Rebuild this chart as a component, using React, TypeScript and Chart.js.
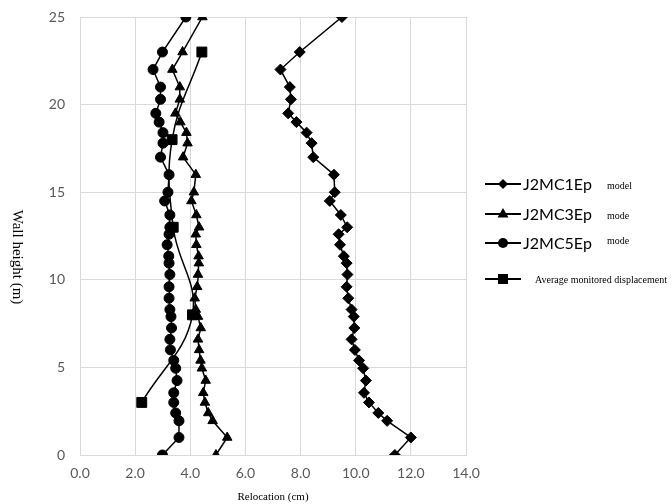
import React, { useEffect, useRef } from "react";
import { Chart, registerables } from "chart.js";

Chart.register(...registerables);

// Shared wall heights (m) for the model series
const heights = [25, 23, 22, 21, 20.3, 19.5, 19, 18.4, 17.8, 17, 16, 15, 14.5, 13.7, 13, 12.6, 12, 11.35, 10.95, 10.3, 9.6, 8.95, 8.3, 7.9, 7.25, 6.6, 6, 5.4, 4.95, 4.25, 3.55, 3, 2.4, 1.95, 1, 0];

// Relocation (cm)
const j2mc1 = [9.5, 7.97, 7.27, 7.61, 7.65, 7.55, 7.85, 8.22, 8.4, 8.46, 9.21, 9.24, 9.06, 9.46, 9.69, 9.38, 9.43, 9.57, 9.67, 9.7, 9.67, 9.73, 9.85, 9.93, 9.95, 9.85, 9.97, 10.12, 10.27, 10.37, 10.3, 10.48, 10.82, 11.14, 12.0, 11.42];
const j2mc3 = [4.44, 3.72, 3.35, 3.62, 3.62, 3.46, 3.64, 3.86, 3.9, 3.74, 4.2, 4.13, 4.04, 4.22, 4.32, 4.2, 4.22, 4.3, 4.31, 4.28, 4.25, 4.16, 4.2, 4.28, 4.38, 4.28, 4.32, 4.37, 4.42, 4.56, 4.47, 4.53, 4.65, 4.81, 5.34, 4.93];
const j2mc5 = [3.84, 2.99, 2.65, 2.92, 2.92, 2.75, 2.87, 3.01, 3.01, 2.92, 3.23, 3.19, 3.07, 3.26, 3.26, 3.23, 3.16, 3.22, 3.23, 3.26, 3.23, 3.23, 3.26, 3.3, 3.32, 3.26, 3.28, 3.4, 3.47, 3.52, 3.4, 3.4, 3.47, 3.59, 3.59, 2.99];

const monitoredHeights = [3, 8, 13, 18, 23];
const monitored = [2.24, 4.08, 3.38, 3.34, 4.42];

const xTicks = [0, 2, 4, 6, 8, 10, 12, 14];
const yTicks = [0, 5, 10, 15, 20, 25];

const legendNames = ["J2MC1Ep", "J2MC3Ep", "J2MC5Ep", ""];
const legendNotes = ["model", "mode", "mode", "Average monitored displacement"];

const pts = (xs: number[], ys: number[]) => xs.map((x, i) => ({ x, y: ys[i] }));

const sidePlugin = {
  id: "sidePlugin",
  afterDraw(chart: any) {
    const ctx = chart.ctx as CanvasRenderingContext2D;
    ctx.save();
    // Y axis title (reads top to bottom)
    ctx.translate(17, 257);
    ctx.rotate(Math.PI / 2);
    ctx.fillStyle = "#000";
    ctx.font = '15px "Liberation Serif", serif';
    ctx.textAlign = "center";
    ctx.textBaseline = "middle";
    ctx.fillText("Wall height (m)", 0, 0);
    ctx.restore();

    // Legend
    const rows = [184, 214, 243, 279];
    const styles = ["diamond", "triangle", "circle", "square"];
    rows.forEach((ry, i) => {
      ctx.save();
      ctx.strokeStyle = "#000";
      ctx.fillStyle = "#000";
      ctx.lineWidth = 2;
      ctx.beginPath();
      ctx.moveTo(485, ry);
      ctx.lineTo(521, ry);
      ctx.stroke();
      const cx = 503;
      ctx.beginPath();
      const s = styles[i];
      if (s === "diamond") {
        ctx.moveTo(cx - 5, ry);
        ctx.lineTo(cx, ry - 5);
        ctx.lineTo(cx + 5, ry);
        ctx.lineTo(cx, ry + 5);
        ctx.closePath();
      } else if (s === "triangle") {
        ctx.moveTo(cx, ry - 6);
        ctx.lineTo(cx + 5.5, ry + 3.5);
        ctx.lineTo(cx - 5.5, ry + 3.5);
        ctx.closePath();
      } else if (s === "circle") {
        ctx.arc(cx, ry, 5, 0, Math.PI * 2);
      } else {
        ctx.rect(cx - 5, ry - 5, 10, 10);
      }
      ctx.fill();
      ctx.textBaseline = "alphabetic";
      if (legendNames[i]) {
        ctx.font = '16px Lato, "Open Sans", sans-serif';
        ctx.fillText(legendNames[i], 523, ry + 6);
        ctx.font = '10px "Liberation Serif", serif';
        ctx.fillText(legendNotes[i], 607, ry + (i === 2 ? 1 : 5));
      } else {
        ctx.font = '10px "Liberation Serif", serif';
        ctx.fillText(legendNotes[i], 535, ry + 4);
      }
      ctx.restore();
    });
  },
};

export default function App() {
  const ref = useRef<HTMLCanvasElement>(null);
  useEffect(() => {
    if (!ref.current) return;
    const common = {
      showLine: true,
      borderColor: "#000",
      backgroundColor: "#000",
      pointBackgroundColor: "#000",
      pointBorderColor: "#000",
      borderWidth: 1.5,
      pointBorderWidth: 1,
    };
    const chart = new Chart(ref.current, {
      type: "scatter",
      data: {
        datasets: [
          { ...common, label: "J2MC1Ep", data: pts(j2mc1, heights), pointStyle: "rectRot", pointRadius: 5.5, tension: 0 },
          { ...common, label: "J2MC3Ep", data: pts(j2mc3, heights), pointStyle: "triangle", pointRadius: 5.5, tension: 0 },
          { ...common, label: "J2MC5Ep", data: pts(j2mc5, heights), pointStyle: "circle", pointRadius: 5, tension: 0 },
          { ...common, label: "Average monitored displacement", data: pts(monitored, monitoredHeights), pointStyle: "rect", pointRadius: 7, tension: 0.4 },
        ],
      },
      options: {
        animation: false,
        responsive: false,
        maintainAspectRatio: false,
        layout: { padding: { top: 17, right: 206, left: 0, bottom: 0 } },
        plugins: { legend: { display: false }, tooltip: { enabled: false } },
        scales: {
          x: {
            type: "linear",
            min: 0,
            max: 14,
            afterBuildTicks: (s: any) => { s.ticks = xTicks.map((v) => ({ value: v })); },
            afterFit: (s: any) => { s.height = 49; s.paddingLeft = 0; s.paddingRight = 0; },
            ticks: {
              callback: (v: any) => Number(v).toFixed(1),
              color: "#595959",
              font: { family: 'Lato, "Open Sans", sans-serif', size: 14 },
              padding: 10,
            },
            grid: { color: "#d9d9d9", drawTicks: false },
            border: { color: "#d9d9d9" },
            title: {
              display: true,
              text: "Relocation (cm)",
              color: "#000",
              font: { family: '"Liberation Serif", serif', size: 11 },
              padding: { top: 0, bottom: 0 },
            },
          },
          y: {
            type: "linear",
            min: 0,
            max: 25,
            afterBuildTicks: (s: any) => { s.ticks = yTicks.map((v) => ({ value: v })); },
            afterFit: (s: any) => { s.width = 80; s.paddingTop = 0; s.paddingBottom = 0; },
            ticks: {
              color: "#595959",
              font: { family: 'Lato, "Open Sans", sans-serif', size: 14 },
              padding: 15,
            },
            grid: { color: "#d9d9d9", drawTicks: false },
            border: { color: "#d9d9d9" },
          },
        },
      },
      plugins: [sidePlugin],
    } as any);
    return () => chart.destroy();
  }, []);
  return (
    <div style={{ position: "fixed", left: 0, top: 0, width: 672, height: 504, background: "#fff" }}>
      <canvas ref={ref} width={672} height={504} style={{ width: 672, height: 504 }} />
    </div>
  );
}
